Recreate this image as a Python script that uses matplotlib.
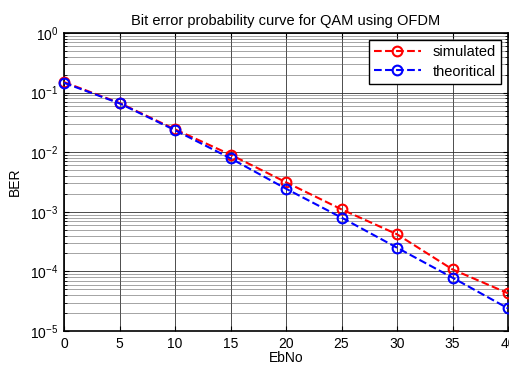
import matplotlib
matplotlib.use('Agg')
import matplotlib.pyplot as plt
from matplotlib.ticker import LogLocator

plt.rcParams['font.family'] = ['Liberation Sans', 'DejaVu Sans']
plt.rcParams['mathtext.default'] = 'regular'

ebno = [0, 5, 10, 15, 20, 25, 30, 35, 40]
ber_sim = [0.15, 0.067, 0.0242, 0.0091, 0.00313, 0.0011, 0.00042, 0.000108, 0.000043]
ber_theory = [0.146, 0.066, 0.0234, 0.0079, 0.00244, 0.00080, 0.00025, 0.0000785, 0.000024]

fig = plt.figure(figsize=(5.09, 3.67), dpi=100)
ax = fig.add_axes([64/509, 1 - 331/367, 444/509, 298/367])

ax.semilogy(ebno, ber_sim, 'r--o', mfc='none', mec='red', ms=7, mew=1.5, lw=1.5,
            label='simulated', clip_on=False, zorder=5)
ax.semilogy(ebno, ber_theory, 'b--o', mfc='none', mec='blue', ms=7, mew=1.5, lw=1.5,
            label='theoritical', clip_on=False, zorder=5)

ax.set_xlim(0, 40)
ax.set_ylim(1e-5, 1)
ax.set_xticks(range(0, 41, 5))
ax.yaxis.set_major_locator(LogLocator(base=10, numticks=10))
ax.yaxis.set_minor_locator(LogLocator(base=10, subs=range(2, 10), numticks=10))

ax.grid(True, which='major', color='#303030', lw=0.6)
ax.grid(True, which='minor', axis='y', color='#606060', lw=0.4)
ax.tick_params(which='both', direction='in', top=True, right=True, labelsize=10, pad=4)
ax.tick_params(which='minor', length=2)
for s in ax.spines.values():
    s.set_linewidth(1.2)

ax.set_title('Bit error probability curve for QAM using OFDM', fontsize=10.5, pad=6)
ax.set_xlabel('EbNo', fontsize=10, labelpad=0)
ax.set_ylabel('BER', fontsize=10, labelpad=6)

leg = ax.legend(loc='upper right', fontsize=10.5, fancybox=False, framealpha=1,
                edgecolor='black', borderaxespad=0.5, handlelength=3.2,
                borderpad=0.35, labelspacing=0.35)
leg.get_frame().set_linewidth(1.0)

fig.savefig('out.png', dpi=100)
